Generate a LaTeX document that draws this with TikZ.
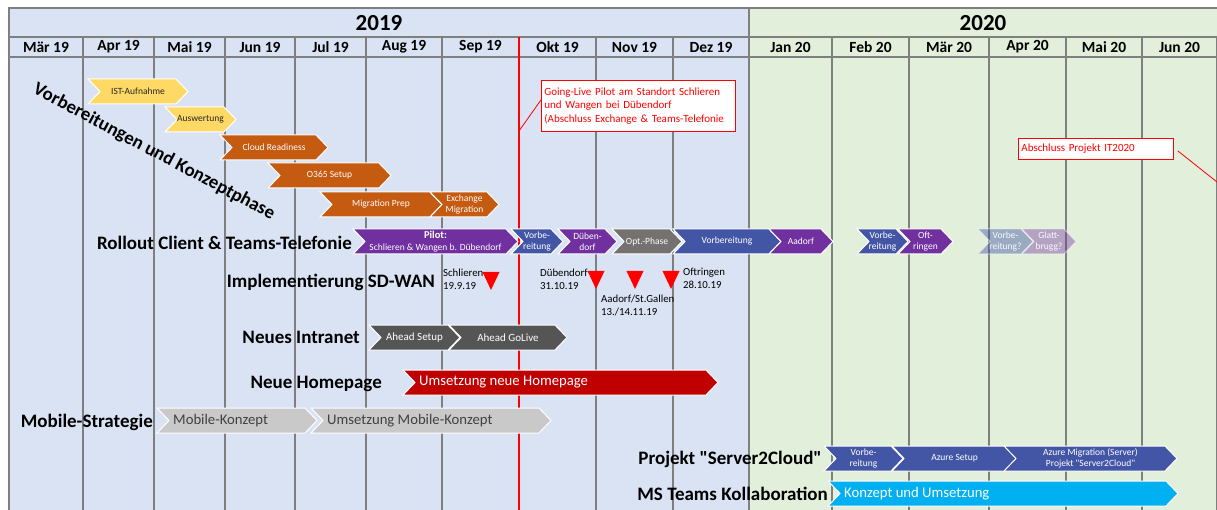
\documentclass[tikz,border=0pt]{standalone}
\usepackage{fontspec}
\setmainfont{Carlito}
\definecolor{bgnineteen}{HTML}{DAE3F3}
\definecolor{bgtwenty}{HTML}{E2EFDA}
\definecolor{gridgray}{HTML}{7F7F7F}
\definecolor{ylw}{HTML}{FFD966}
\definecolor{org}{HTML}{C55A11}
\definecolor{ppl}{HTML}{7030A0}
\definecolor{blu}{HTML}{4356A6}
\definecolor{gry}{HTML}{767171}
\definecolor{dgry}{HTML}{555555}
\definecolor{hpred}{HTML}{C00000}
\definecolor{lgry}{HTML}{C9C9C9}
\definecolor{cyn}{HTML}{00B0F0}
\definecolor{msred}{HTML}{FF0000}

\def\ChevTip{12}
\def\ChevH{25}
\newcommand{\ChevShape}[4]{% left x, right x, top y, look
\fill[#4, draw=white, line width=1pt] (#1,#3) -- ({#2-\ChevTip},#3) -- (#2,{#3+\ChevH/2}) -- ({#2-\ChevTip},{#3+\ChevH}) -- (#1,{#3+\ChevH}) -- ({#1+\ChevTip},{#3+\ChevH/2}) -- cycle;%
}
\newcommand{\Chevron}[6]{% name, left x, right x, top y, look, text
\ChevShape{#2}{#3}{#4}{#5}%
\node[chev, #5, fill=none, draw=none] (#1) at ({(#2+#3)/2},{#4+\ChevH/2}) {#6};%
}
\newcommand{\ChevronL}[6]{% same, text on the left
\ChevShape{#2}{#3}{#4}{#5}%
\node[chevbig, #5, fill=none, draw=none, anchor=west] (#1) at ({#2+\ChevTip+4},{#4+\ChevH/2}) {#6};%
}
\newcommand{\Milestone}[3]{% name, x, top y
\coordinate (#1) at (#2,#3);%
\fill[msred] (#1) ++(-8.5,0) -- ++(17,0) -- ++(-8.5,18) -- cycle;%
}

\begin{document}
\begin{tikzpicture}[x=1pt, y=-1pt,
gridline/.style={draw=gridgray, line width=1.2pt},
redline/.style={draw=red, line width=1.5pt},
month/.style={font=\bfseries\fontsize{15.5}{17}\selectfont},
year/.style={font=\bfseries\fontsize{23}{26}\selectfont},
rowlabel/.style={font=\bfseries\fontsize{19}{21}\selectfont, anchor=east, inner sep=0},
chev/.style={font=\fontsize{9.5}{11.5}\selectfont, align=center, inner sep=0, text=white},
chevbig/.style={font=\fontsize{14.7}{16}\selectfont, inner sep=0, text=white},
yellowchev/.style={fill=ylw, text=black!85},
orangechev/.style={fill=org},
purplechev/.style={fill=ppl},
bluechev/.style={fill=blu},
greychev/.style={fill=gry},
darkchev/.style={fill=dgry},
redchev/.style={fill=hpred},
lightchev/.style={fill=lgry, text=black!75},
cyanchev/.style={fill=cyn},
fadeblue/.style={fill=blu, fill opacity=.45, draw opacity=.5, text opacity=.95},
fadepurple/.style={fill=ppl, fill opacity=.4, draw opacity=.5, text opacity=.95},
mslabel/.style={font=\fontsize{10.8}{12.5}\selectfont, align=left, anchor=north west, inner sep=0},
callout/.style={draw=red, line width=.8pt, fill=white, text=red, font=\fontsize{11}{13.5}\selectfont, align=left, anchor=north west, inner sep=3pt},
]
\useasboundingbox (0,0) rectangle (1217,510);

%%%%%%%% BACKGROUND %%%%%%%%
\fill[bgnineteen] (9,8) rectangle (749,510);
\fill[bgtwenty] (749,8) rectangle (1217,510);
\draw[gridline] (9,510) -- (9,8) -- (1217,8);
\draw[gridline] (9,37) -- (1217,37);
\draw[gridline] (749,8) -- (749,37);
\node[year] (y2019) at (379,23) {2019};
\node[year] (y2020) at (983,23) {2020};

%%%%%%%% MONTHS %%%%%%%%
\foreach \xa/\xb/\mon in {9/83/Mär 19, 83/154/Apr 19, 154/225/Mai 19, 225/295/Jun 19,
  295/366/Jul 19, 366/442/Aug 19, 442/519/Sep 19, 519/596/Okt 19, 596/673/Nov 19,
  673/749/Dez 19, 749/832/Jan 20, 832/909/Feb 20, 909/989/Mär 20, 989/1066/Apr 20,
  1066/1142/Mai 20, 1142/1217/Jun 20}{
  \draw[gridline] (\xa,37) rectangle (\xb,57);
  \draw[gridline] (\xb,57) -- (\xb,510);
  \node[month] (m\xa) at ({(\xa+\xb)/2},47) {\mon};
}
\coordinate (redtop) at (519,37);
\coordinate (redbot) at (519,510);
\draw[redline] (redtop) -- (redbot);

%%%%%%%% VORBEREITUNG %%%%%%%%
\node[font=\bfseries\fontsize{18.8}{21}\selectfont, rotate=-28] (phase) at (154,152) {Vorbereitungen und Konzeptphase};
\Chevron{ist}{88}{188}{79}{yellowchev}{IST-Aufnahme}
\Chevron{ausw}{165}{236}{107}{yellowchev}{Auswertung}
\Chevron{cloud}{220}{328}{135}{orangechev}{Cloud Readiness}
\Chevron{oset}{268}{391}{163}{orangechev}{O365 Setup}
\Chevron{migprep}{320}{442}{192}{orangechev}{Migration Prep}
\Chevron{exmig}{430}{499}{192}{orangechev}{Exchange\\Migration}

%%%%%%%% ROLLOUT %%%%%%%%
\node[rowlabel] (rollout) at (352,243) {Rollout Client \& Teams-Telefonie};
\Chevron{pilot}{353}{518}{229}{purplechev}{\textbf{\fontsize{10.5}{11.5}\selectfont Pilot:}\\Schlieren \& Wangen b. Dübendorf}
\Chevron{vorba}{511}{563}{229}{bluechev}{Vorbe-\\reitung}
\Chevron{dueb}{558}{617}{229}{purplechev}{Düben-\\dorf}
\Chevron{opt}{612}{682}{229}{greychev}{Opt.-Phase}
\Chevron{vorbb}{673}{781}{229}{bluechev}{Vorbereitung}
\Chevron{aadorf}{769}{833}{229}{purplechev}{Aadorf}
\Chevron{vorbc}{857}{908}{229}{bluechev}{Vorbe-\\reitung}
\Chevron{oft}{898}{953}{229}{purplechev}{Oft-\\ringen}
\Chevron{vorbd}{978}{1033}{229}{fadeblue}{Vorbe-\\reitung?}
\Chevron{glatt}{1022}{1076}{229}{fadepurple}{Glatt-\\brugg?}

%%%%%%%% SD-WAN %%%%%%%%
\node[rowlabel] (sdwan) at (435,282) {Implementierung SD-WAN};
\Milestone{msa}{491}{272}
\Milestone{msb}{596}{271}
\Milestone{msc}{635}{271}
\Milestone{msd}{671}{271}
\node[mslabel] (lschlieren) at (443,269) {Schlieren\\19.9.19};
\node[mslabel] (ldueb) at (540,269) {Dübendorf\\31.10.19};
\node[mslabel] (laadorf) at (601,295) {Aadorf/St.Gallen\\13./14.11.19};
\node[mslabel] (loft) at (683,268) {Oftringen\\28.10.19};

%%%%%%%% INTRANET, HOMEPAGE, MOBILE %%%%%%%%
\node[rowlabel] (intranet) at (360,337) {Neues Intranet};
\Chevron{ahsetup}{369}{460}{325}{darkchev}{\fontsize{11}{12}\selectfont Ahead Setup}
\Chevron{ahgolive}{449}{567}{325}{darkchev}{\fontsize{11}{12}\selectfont Ahead GoLive}
\node[rowlabel] (homepage) at (382,384) {Neue Homepage};
\ChevronL{hpumsetz}{403}{718}{370}{redchev}{Umsetzung neue Homepage}
\node[rowlabel] (mobile) at (153,422) {Mobile-Strategie};
\ChevronL{mobkonz}{157}{317}{408}{lightchev}{Mobile-Konzept}
\ChevronL{mobumsetz}{311}{551}{408}{lightchev}{Umsetzung Mobile-Konzept}

%%%%%%%% 2020 PROJECTS %%%%%%%%
\node[rowlabel] (server) at (822,459) {Projekt \textquotedbl Server2Cloud\textquotedbl};
\Chevron{vorbe}{824}{903}{446}{bluechev}{Vorbe-\\reitung}
\Chevron{azset}{892}{1017}{446}{bluechev}{Azure Setup}
\Chevron{azmig}{1004}{1177}{446}{bluechev}{Azure Migration (Server)\\Projekt \textquotedbl Server2Cloud\textquotedbl}
\node[rowlabel] (teams) at (828,494) {MS Teams Kollaboration};
\ChevronL{teamskonz}{828}{1178}{481}{cyanchev}{Konzept und Umsetzung}

%%%%%%%% CALLOUTS %%%%%%%%
\node[callout, text width=188pt, minimum height=51pt] (golive) at (541,80) {Going-Live Pilot am Standort Schlieren\\und Wangen bei Dübendorf\\(Abschluss Exchange \& Teams-Telefonie};
\coordinate (golivept) at (519,131);
\draw[red, line width=.8pt] (golivept) -- ([yshift=6pt]golive.west);
\node[callout, text width=149pt, minimum height=21pt] (itend) at (1018,138) {Abschluss Projekt IT2020};
\coordinate (itendpt) at (1217,182);
\draw[red, line width=.8pt] ([xshift=4pt,yshift=-2pt]itend.east) -- (itendpt);
\end{tikzpicture}
\end{document}
